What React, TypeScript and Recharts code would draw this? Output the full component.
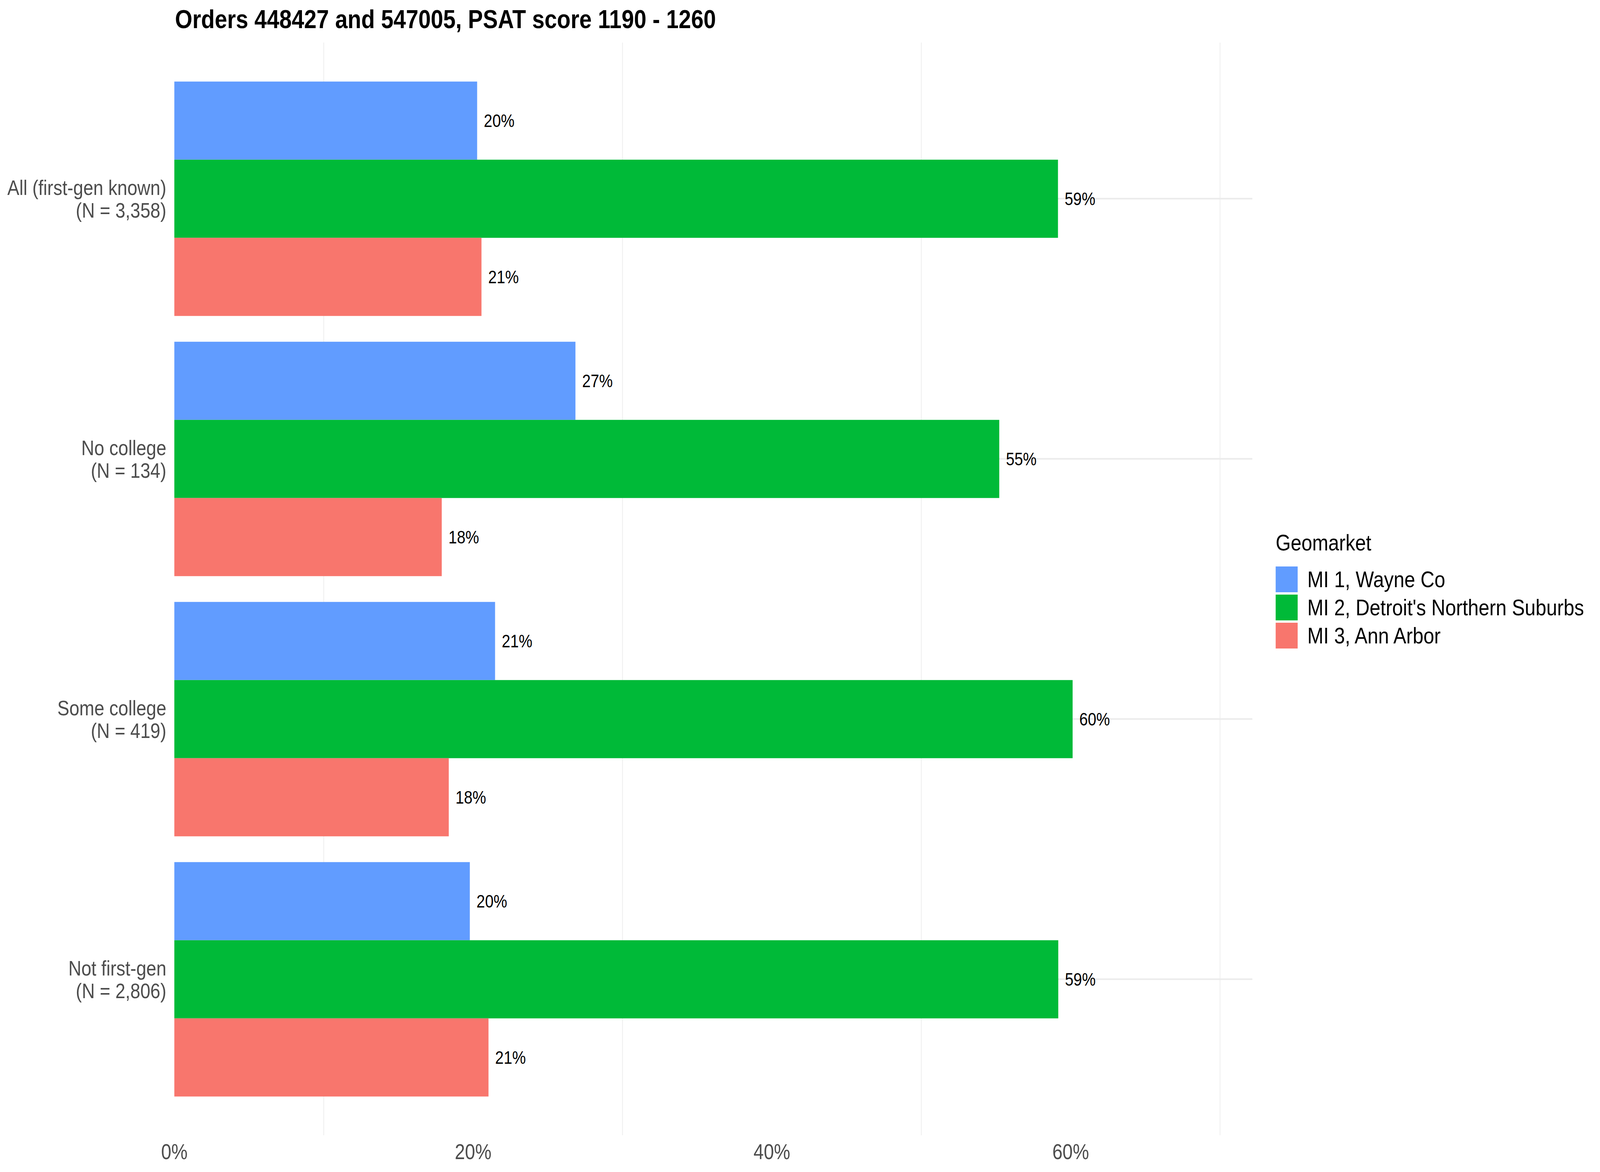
import {
  BarChart,
  Bar,
  XAxis,
  YAxis,
  CartesianGrid,
  LabelList,
} from "recharts";

document.body.style.margin = "0";

const FONT = '"Liberation Sans", Arial, Helvetica, sans-serif';

// design size; fitted to the actual viewport
const W = 4800;
const H = 3000;
const VIEW_W = window.innerWidth || W;
const VIEW_H = window.innerHeight || H;
const KX = VIEW_W / W;
const KY = VIEW_H / H;

// first-gen groups, top to bottom
const categories = [
  "All (first-gen known)",
  "No college",
  "Some college",
  "Not first-gen",
];
const counts = [3358, 134, 419, 2806];

// share of students per geomarket (%)
const wayneCo = [20.27, 26.85, 21.47, 19.78];
const northernSuburbs = [59.15, 55.22, 60.13, 59.17];
const annArbor = [20.56, 17.9, 18.37, 21.03];

const xTicks = [0, 20, 40, 60];
const minorTicks = [10, 30, 50, 70];
const X_MAX = 72.16;

const SERIES = [
  { key: "mi1", name: "MI 1, Wayne Co", color: "#619CFF" },
  { key: "mi2", name: "MI 2, Detroit's Northern Suburbs", color: "#00BA38" },
  { key: "mi3", name: "MI 3, Ann Arbor", color: "#F8766D" },
];

const data = categories.map((label, i) => ({
  label,
  mi1: wayneCo[i],
  mi2: northernSuburbs[i],
  mi3: annArbor[i],
}));

function CategoryTick(props: any) {
  const { x, y, payload } = props;
  const i = categories.indexOf(payload.value);
  return (
    <g>
      <text
        x={x}
        y={y - 9}
        textAnchor="end"
        fontSize={54}
        fill="#4D4D4D"
        fontFamily={FONT}
      >
        {payload.value}
      </text>
      <text
        x={x}
        y={y + 49}
        textAnchor="end"
        fontSize={54}
        fill="#4D4D4D"
        fontFamily={FONT}
      >
        {`(N = ${counts[i].toLocaleString("en-US")})`}
      </text>
    </g>
  );
}

// minor x gridlines (10/30/50/70) placed through the x scale
function minorVertical({ xAxis, offset }: any) {
  const sc = xAxis && xAxis.scale;
  return minorTicks.map((t) =>
    typeof sc === "function"
      ? sc(t)
      : offset.left + (t / X_MAX) * offset.width
  );
}

export default function App() {
  return (
    <div style={{ width: VIEW_W, height: VIEW_H, overflow: "hidden" }}>
      <div
        style={{
          position: "relative",
          width: W,
          height: H,
          background: "#fff",
          fontFamily: FONT,
          transform: `scale(${KX}, ${KY})`,
          transformOrigin: "0 0",
        }}
      >
        <div
          style={{
            position: "absolute",
            left: 525,
            top: 15,
            fontSize: 67,
            lineHeight: 1,
            fontWeight: "bold",
            color: "#000",
            whiteSpace: "nowrap",
          }}
        >
          Orders 448427 and 547005, PSAT score 1190 - 1260
        </div>

        <BarChart
          width={W}
          height={H}
          data={data}
          layout="vertical"
          margin={{ top: 109, right: 1043, bottom: 0, left: 0 }}
          barCategoryGap="5%"
          barGap={0}
        >
          <CartesianGrid
            vertical={false}
            syncWithTicks
            stroke="#EBEBEB"
            strokeWidth={4}
          />
          <CartesianGrid
            horizontal={false}
            verticalCoordinatesGenerator={minorVertical}
            stroke="#EBEBEB"
            strokeWidth={2}
          />
          <XAxis
            type="number"
            domain={[0, X_MAX]}
            ticks={xTicks}
            tickFormatter={(v) => `${v}%`}
            axisLine={false}
            tickLine={false}
            tickSize={0}
            tickMargin={22}
            height={94}
            tick={{ fontSize: 55, fill: "#4D4D4D", fontFamily: FONT }}
          />
          <YAxis
            type="category"
            dataKey="label"
            width={523}
            axisLine={false}
            tickLine={false}
            tickSize={0}
            tickMargin={24}
            padding={{ top: 66.5, bottom: 66.5 }}
            tick={<CategoryTick />}
          />
          {SERIES.map((s) => (
            <Bar
              key={s.key}
              dataKey={s.key}
              name={s.name}
              fill={s.color}
              isAnimationActive={false}
            >
              <LabelList
                dataKey={s.key}
                position="right"
                offset={20}
                formatter={(v: any) => `${Math.round(Number(v))}%`}
                fontSize={46}
                fill="#000"
                fontFamily={FONT}
              />
            </Bar>
          ))}
        </BarChart>

        <div
          style={{ position: "absolute", left: 3827, top: 1360, color: "#000" }}
        >
          <div style={{ fontSize: 58, lineHeight: 1, marginBottom: 32 }}>
            Geomarket
          </div>
          {SERIES.map((s) => (
            <div
              key={s.key}
              style={{
                display: "flex",
                alignItems: "center",
                height: 66,
                marginBottom: 6,
              }}
            >
              <div style={{ width: 66, height: 66, background: s.color }} />
              <div
                style={{
                  marginLeft: 29,
                  fontSize: 58,
                  lineHeight: 1,
                  whiteSpace: "nowrap",
                }}
              >
                {s.name}
              </div>
            </div>
          ))}
        </div>
      </div>
    </div>
  );
}
